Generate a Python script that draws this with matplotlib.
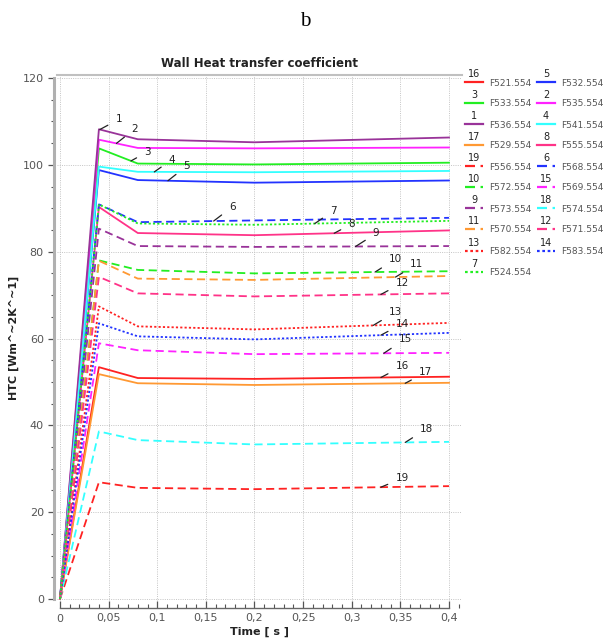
import matplotlib
matplotlib.use("Agg")
import matplotlib.pyplot as plt
from matplotlib.lines import Line2D
from matplotlib.ticker import MultipleLocator, FuncFormatter
import numpy as np

# ---------------- data ----------------
time_s = [0.0, 0.04, 0.08, 0.2, 0.4]

curve_numbers = [16, 5, 3, 2, 1, 4, 17, 8, 19, 6, 10, 15, 9, 18, 11, 12, 13, 14, 7]
curve_names = ["F521.554", "F532.554", "F533.554", "F535.554", "F536.554", "F541.554",
               "F529.554", "F555.554", "F556.554", "F568.554", "F572.554", "F569.554",
               "F573.554", "F574.554", "F570.554", "F571.554", "F582.554", "F583.554",
               "F524.554"]

F521 = [0, 53.4, 50.9, 50.7, 51.2]     # 16
F532 = [0, 98.8, 96.5, 95.9, 96.4]     # 5
F533 = [0, 103.8, 100.3, 100.1, 100.5]  # 3
F535 = [0, 105.8, 103.9, 103.8, 104.0]  # 2
F536 = [0, 108.2, 105.9, 105.2, 106.3]  # 1
F541 = [0, 99.6, 98.4, 98.3, 98.6]     # 4
F529 = [0, 51.8, 49.7, 49.3, 49.8]     # 17
F555 = [0, 90.3, 84.3, 83.8, 84.9]     # 8
F556 = [0, 26.9, 25.6, 25.3, 26.0]     # 19
F568 = [0, 90.9, 86.8, 87.2, 87.8]     # 6
F572 = [0, 78.0, 75.8, 75.0, 75.5]     # 10
F569 = [0, 58.9, 57.3, 56.4, 56.7]     # 15
F573 = [0, 85.3, 81.3, 81.1, 81.3]     # 9
F574 = [0, 38.6, 36.6, 35.6, 36.2]     # 18
F570 = [0, 77.9, 73.8, 73.5, 74.4]     # 11
F571 = [0, 74.2, 70.4, 69.7, 70.4]     # 12
F582 = [0, 67.4, 62.8, 62.1, 63.6]     # 13
F583 = [0, 63.5, 60.5, 59.8, 61.3]     # 14
F524 = [0, 90.9, 86.5, 86.2, 87.1]     # 7

series_values = [F521, F532, F533, F535, F536, F541, F529, F555, F556, F568,
                 F572, F569, F573, F574, F570, F571, F582, F583, F524]

# label anchor (x on curve) and label text positions (data coords)
label_anchor_x = {1: 0.041, 2: 0.058, 3: 0.073, 4: 0.097, 5: 0.111, 6: 0.158,
                  7: 0.262, 8: 0.282, 9: 0.304, 10: 0.324, 11: 0.345, 12: 0.330,
                  13: 0.322, 14: 0.330, 15: 0.333, 16: 0.330, 17: 0.355, 18: 0.355,
                  19: 0.330}
label_text_xy = {1: (0.0605, 110.5), 2: (0.077, 108.3), 3: (0.090, 103.0), 4: (0.115, 101.2),
                 5: (0.130, 99.7), 6: (0.177, 90.3), 7: (0.281, 89.4), 8: (0.300, 86.4),
                 9: (0.325, 84.2), 10: (0.345, 78.3), 11: (0.367, 77.1), 12: (0.352, 72.8),
                 13: (0.345, 66.1), 14: (0.352, 63.4), 15: (0.355, 59.9), 16: (0.352, 53.6),
                 17: (0.376, 52.2), 18: (0.377, 39.2), 19: (0.352, 27.8)}

# ---------------- styles ----------------
purple = "#993399"
magenta = "#FF22FF"
green = "#22EE22"
cyan = "#33FFFF"
blue = "#2233FF"
orange = "#FF9933"
pink = "#FF3388"
red = "#FF2222"

style_map = {
    16: (red, "-"), 5: (blue, "-"), 3: (green, "-"), 2: (magenta, "-"),
    1: (purple, "-"), 4: (cyan, "-"), 17: (orange, "-"), 8: (pink, "-"),
    19: (red, "--"), 6: (blue, "--"), 10: (green, "--"), 15: (magenta, "--"),
    9: (purple, "--"), 18: (cyan, "--"), 11: (orange, "--"), 12: (pink, "--"),
    13: (red, ":"), 14: (blue, ":"), 7: (green, ":"),
}

W, H = 611, 639
fig = plt.figure(figsize=(W / 100, H / 100), dpi=100)
ax = fig.add_axes([57 / W, 1 - 601 / H, (462 - 57) / W, (601 - 75) / H])

dash_map = {"-": None, "--": (0, (4.5, 2.5)), ":": (0, (1.2, 1.2))}

for num, vals in zip(curve_numbers, series_values):
    col, ls = style_map[num]
    kw = {}
    if dash_map[ls] is not None:
        kw["linestyle"] = dash_map[ls]
    ax.plot(time_s, vals, color=col, lw=1.3, zorder=3, **kw)

# curve labels with leader lines
for num, vals in zip(curve_numbers, series_values):
    xa = label_anchor_x[num]
    ya = float(np.interp(xa, time_s, vals))
    tx, ty = label_text_xy[num]
    ax.annotate(str(num), xy=(xa, ya), xytext=(tx, ty), fontsize=7.5,
                ha="center", va="center", color="#222222",
                arrowprops=dict(arrowstyle="-", color="#222222", lw=0.9,
                                shrinkA=4, shrinkB=0), zorder=5)

ax.set_xlim(-0.0031, 0.4134)
ax.set_ylim(-0.46, 120.7)

ax.xaxis.set_major_locator(MultipleLocator(0.05))
ax.xaxis.set_minor_locator(MultipleLocator(0.01))
ax.yaxis.set_major_locator(MultipleLocator(20))
ax.yaxis.set_minor_locator(MultipleLocator(5))
ax.xaxis.set_major_formatter(FuncFormatter(lambda v, p: ("%g" % round(v, 2)).replace(".", ",")))

ax.grid(True, which="major", color="#C4C4C4", linestyle=(0, (1, 1.3)), lw=0.7)

ax.spines["right"].set_visible(False)
ax.spines["top"].set_color("#C0C0C0")
ax.spines["top"].set_linewidth(1.5)
ax.spines["left"].set_position(("outward", 2))
ax.spines["left"].set_color("#B0B0B0")
ax.spines["left"].set_linewidth(2.2)
ax.spines["left"].set_bounds(0, 120)
ax.spines["bottom"].set_position(("outward", 5))
ax.spines["bottom"].set_color("#666666")
ax.spines["bottom"].set_linewidth(1.0)
ax.spines["bottom"].set_bounds(0, 0.4)

ax.tick_params(axis="both", which="major", labelsize=8, labelcolor="#555555",
               color="#555555", length=4, width=0.9)
ax.tick_params(axis="both", which="minor", color="#555555", length=2.5, width=0.8)
ax.tick_params(axis="x", direction="in", pad=4, length=5)
ax.tick_params(axis="x", which="minor", direction="in", length=3)

ax.set_xlabel("Time [ s ]", fontsize=8, fontweight="bold", labelpad=2, color="#222222")
ax.set_ylabel("HTC [Wm^~2K^~1]", fontsize=8, fontweight="bold", labelpad=3, color="#222222")
ax.set_title("Wall Heat transfer coefficient", fontsize=8.5, fontweight="bold",
             pad=6, color="#222222")

fig.text(0.5, 1 - 22 / H, "b", ha="center", va="center", fontsize=15,
         family="Liberation Serif")

# ---------------- custom legend ----------------
row_y = [82, 103, 124, 145, 166, 187, 208, 229, 251, 272]
col_x = [465, 537]
for i, (num, name) in enumerate(zip(curve_numbers, curve_names)):
    r, c = divmod(i, 2)
    y = row_y[r]
    x0 = col_x[c]
    col, ls = style_map[num]
    kw = {}
    if dash_map[ls] is not None:
        kw["linestyle"] = dash_map[ls]
    fig.add_artist(Line2D([x0 / W, (x0 + 18) / W], [1 - y / H, 1 - y / H],
                          color=col, lw=1.6, transform=fig.transFigure, **kw))
    fig.text((x0 + 9) / W, 1 - (y - 8) / H, str(num), fontsize=7, ha="center",
             va="center", color="#222222")
    fig.text((x0 + 24) / W, 1 - (y + 1) / H, name, fontsize=6.5, ha="left",
             va="center", color="#555555")

fig.savefig("out.png", dpi=100)
